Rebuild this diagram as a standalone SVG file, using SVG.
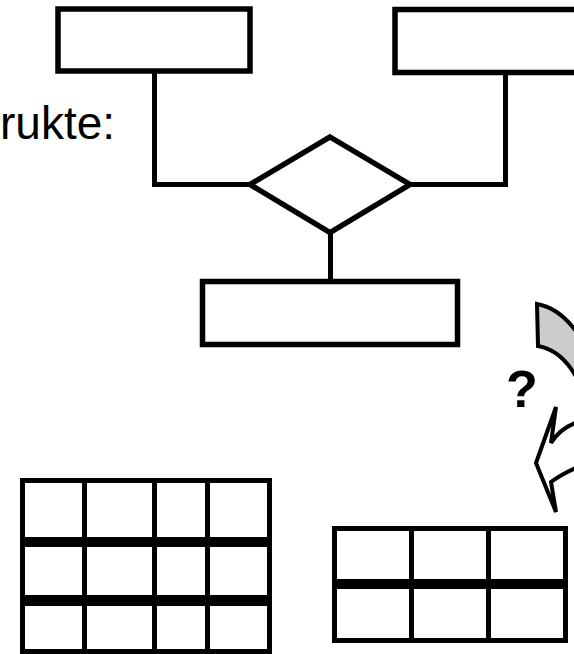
<svg xmlns="http://www.w3.org/2000/svg" width="574" height="654" viewBox="0 0 574 654">
<style>
.box{fill:#fff;stroke:#000;stroke-width:5.5}
.conn{fill:none;stroke:#000;stroke-width:5;stroke-linejoin:miter}
.grid{fill:none;stroke:#000;stroke-width:5}
.band{fill:#000}
.lbl{font-family:"Liberation Sans",Arial,sans-serif;fill:#000}
.arrow{stroke:#000;stroke-width:4;stroke-linejoin:miter}
</style>
<rect width="574" height="654" fill="#fff"/>
<text class="lbl" x="0" y="139" font-size="46">rukte:</text>
<g id="connectors">
<polyline class="conn" points="154.5,73 154.5,184.5 252,184.5"/>
<polyline class="conn" points="408,184.5 505.5,184.5 505.5,73"/>
<line class="conn" x1="330.5" y1="232" x2="330.5" y2="282"/>
</g>
<g id="entity1"><rect class="box" x="58" y="9" width="192" height="62"/></g>
<g id="entity2"><rect class="box" x="395" y="9.5" width="200" height="63"/></g>
<g id="relation"><polygon class="box" points="330,137 410,184.5 330,232.5 250,184.5"/></g>
<g id="entity3"><rect class="box" x="202.5" y="281.5" width="255" height="63"/></g>
<g id="arrow">
<path class="arrow" fill="#ccc" d="M537,304 Q560,308 578,334 L578,380 Q562,350 538,346 Z"/>
<path class="arrow" fill="#fff" d="M578,422 Q560,428 551,443 L556,407 L536,463 L556,512 L551,482 Q562,474 578,467 Z"/>
</g>
<text class="lbl" x="506" y="407" font-size="52" font-weight="bold">?</text>
<g id="table1">
<rect class="grid" x="22.5" y="480.5" width="247" height="171"/>
<line class="grid" x1="84.5" y1="480" x2="84.5" y2="652"/>
<line class="grid" x1="154.5" y1="480" x2="154.5" y2="652"/>
<line class="grid" x1="207.5" y1="480" x2="207.5" y2="652"/>
<rect class="band" x="20" y="537" width="252" height="10"/>
<rect class="band" x="20" y="595" width="252" height="11"/>
</g>
<g id="table2">
<rect class="grid" x="334.5" y="528.5" width="231" height="112"/>
<line class="grid" x1="411.5" y1="528" x2="411.5" y2="641"/>
<line class="grid" x1="488.5" y1="528" x2="488.5" y2="641"/>
<rect class="band" x="332" y="579" width="236" height="10"/>
</g>
</svg>
